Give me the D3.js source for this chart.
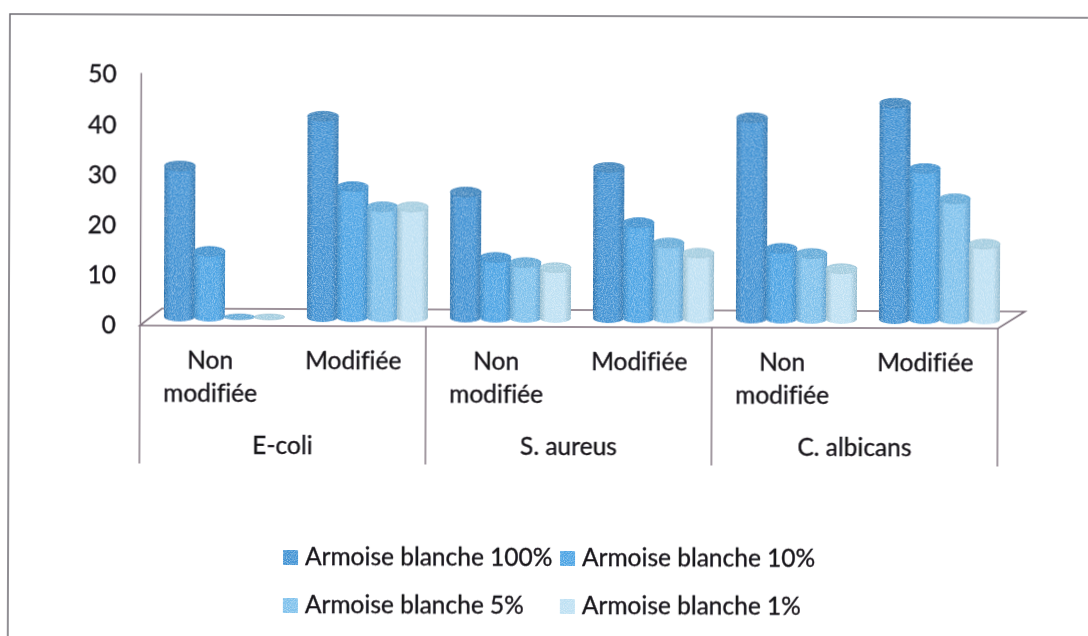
<!DOCTYPE html>
<html lang="fr">
<head>
    <meta charset="UTF-8">
    <title>Armoise blanche</title>
    <style>
        html, body { margin: 0; padding: 0; background: #fff; }
        svg { display: block; }
        text {
            font-family: Lato, "Open Sans", sans-serif;
            fill: #17141a;
            stroke: #17141a;
            stroke-width: 0.35px;
            font-variant-ligatures: none;
        }
    </style>
</head>
<body>
    <script src="https://cdnjs.cloudflare.com/ajax/libs/d3/7.8.2/d3.min.js"></script>
    <script>
        const souches = ["E-coli", "S. aureus", "C. albicans"]
        const etats = ["Non modifiée", "Modifiée"]
        const series = ["Armoise blanche 100%", "Armoise blanche 10%", "Armoise blanche 5%", "Armoise blanche 1%"]
        const yTicks = [0, 10, 20, 30, 40, 50]

        // une ligne par série, 6 valeurs : souche x état
        const a100 = [30, 40, 25, 30, 40, 43]
        const a10 = [13, 26, 12, 19, 14, 30]
        const a5 = [0, 22, 11, 15, 13, 24]
        const a1 = [0, 22, 10, 13, 10, 15]
        const valeurs = [a100, a10, a5, a1]

        const couleurs = ["#3f92d4", "#4aa3e4", "#7cc0ec", "#bde0f3"]
        const sombres = ["#2a72ad", "#2f83c2", "#5198c9", "#8fb8cc"]
        const dessus = ["#3a83bd", "#3c90cf", "#60a9d8", "#a3cde0"]

        const w = 1088
        const h = 636
        const dx = 13   // décalage de la profondeur 3D
        const dy = 8

        const svg = d3.select("body")
            .append("svg")
                .attr("width", w)
                .attr("height", h)

        const defs = svg.append("defs")

        // grain du scan sur les barres
        const grain = defs.append("filter").attr("id", "grain")
            .attr("color-interpolation-filters", "sRGB")
            .attr("x", "-5%").attr("y", "-5%").attr("width", "110%").attr("height", "110%")
        grain.append("feTurbulence")
            .attr("type", "fractalNoise").attr("baseFrequency", 0.9).attr("numOctaves", 2).attr("seed", 4)
            .attr("result", "bruit")
        grain.append("feColorMatrix").attr("in", "bruit").attr("type", "matrix")
            .attr("values", "0 0 0 0 1  0 0 0 0 1  0 0 0 0 1  1.1 0 0 0 -0.42")
            .attr("result", "points")
        grain.append("feComposite").attr("in", "points").attr("in2", "SourceAlpha").attr("operator", "in").attr("result", "pointsBar")
        grain.append("feMerge").selectAll("feMergeNode")
            .data(["SourceGraphic", "pointsBar"])
            .enter().append("feMergeNode").attr("in", d => d)

        const flou = defs.append("filter").attr("id", "flou")
        flou.append("feGaussianBlur").attr("stdDeviation", 0.45)

        // cylindre : bords sombres, centre clair
        series.forEach((s, i) => {
            const g = defs.append("linearGradient").attr("id", "cyl" + i)
            g.append("stop").attr("offset", "0%").attr("stop-color", sombres[i])
            g.append("stop").attr("offset", "20%").attr("stop-color", couleurs[i])
            g.append("stop").attr("offset", "78%").attr("stop-color", couleurs[i])
            g.append("stop").attr("offset", "100%").attr("stop-color", sombres[i])
        })

        const chart = svg.append("g")
            .attr("transform", "rotate(0.2)")
            .attr("filter", "url(#flou)")

        // cadre
        chart.append("path")
            .attr("d", `M1088,14H10V636`)
            .attr("fill", "none")
            .attr("stroke", "#6d6b72")
            .attr("stroke-width", 1.5)

        const categories = d3.range(6)
        const x0 = d3.scaleBand().domain(categories).range([141, 999])
        const x1 = d3.scaleBand().domain(series).range([11, 131])
        const y = d3.scaleLinear().domain([0, 50]).range([323, 72])

        // sol 3D
        const trait = "#7d6f7b"
        chart.append("path")
            .attr("d", `M${x0.range()[0]},${y(0) + 2}L${x0.range()[0] + 22},${y(0) - 15}H${x0.range()[1] + 27}L${x0.range()[1]},${y(0) + 2}Z`)
            .attr("fill", "#fff")
            .attr("stroke", trait)
            .attr("stroke-width", 1.6)

        // axe Y
        const axeY = d3.axisLeft(y).tickValues(yTicks).tickSize(0).tickPadding(24)
        const gy = chart.append("g").attr("transform", "translate(141,0)").call(axeY)
        gy.select(".domain").attr("stroke", trait).attr("stroke-width", 1.4)
        gy.selectAll("text")
            .attr("font-size", 24.5)
            .attr("dy", "0.4em")
            .style("font-family", "Lato, sans-serif")

        // cylindres
        const ry = 5
        const largeur = x1.bandwidth() + 1
        const cylindre = (xg, v) => {
            const yb = y(0) - dy + 1
            const yt = y(v) - dy + 1
            return `M${xg},${yt}V${yb}A${largeur / 2},${ry} 0 0 0 ${xg + largeur},${yb}V${yt}A${largeur / 2},${ry} 0 0 0 ${xg},${yt}Z`
        }
        const barres = categories.flatMap(c => series.map((s, i) => ({ c, s, i, v: valeurs[i][c] })))

        const groupes = chart.append("g").selectAll("g")
            .data(barres)
            .enter()
            .append("g")
                .attr("filter", "url(#grain)")

        groupes.filter(d => d.v > 0).append("path")
            .attr("d", d => cylindre(x0(d.c) + x1(d.s) + dx, d.v))
            .attr("fill", d => `url(#cyl${d.i})`)

        groupes.append("ellipse")
            .attr("cx", d => x0(d.c) + x1(d.s) + dx + largeur / 2)
            .attr("cy", d => y(d.v) - dy + 1)
            .attr("rx", largeur / 2)
            .attr("ry", d => d.v > 0 ? ry : 3)
            .attr("fill", d => dessus[d.i])
            .attr("stroke", d => sombres[d.i])
            .attr("stroke-width", 0.5)

        // séparateurs de l'axe X
        const sep = [0, 2, 4, 6]
        chart.append("g").selectAll("line")
            .data(sep)
            .enter()
            .append("line")
                .attr("x1", d => d === 6 ? x0.range()[1] : x0(d))
                .attr("x2", d => d === 6 ? x0.range()[1] : x0(d))
                .attr("y1", y(0) + 2)
                .attr("y2", 463)
                .attr("stroke", trait)
                .attr("stroke-width", 1.4)

        // libellés d'état
        const etatsTous = categories.map(c => etats[c % 2])
        const lib = chart.append("g").selectAll("text")
            .data(categories)
            .enter()
            .append("text")
                .attr("font-size", 24.5)
                .attr("text-anchor", "middle")
                .attr("x", d => x0(d) + x0.bandwidth() / 2 - 1)
                .attr("y", 368)
        lib.selectAll("tspan")
            .data(d => etatsTous[d] === etats[0] ? etatsTous[d].split(" ") : [etatsTous[d]])
            .enter()
            .append("tspan")
                .attr("x", function () { return d3.select(this.parentNode).attr("x") })
                .attr("dy", (d, i) => i ? 33 : 0)
                .text(d => d)

        // souches
        chart.append("g").selectAll("text")
            .data(souches)
            .enter()
            .append("text")
                .attr("font-size", 24.5)
                .attr("text-anchor", "middle")
                .attr("x", (d, i) => x0(i * 2) + x0.bandwidth())
                .attr("y", 453)
                .text(d => d)

        // légende
        const legX = [285, 562]
        const legY = [556, 604]
        const leg = chart.append("g").selectAll("g")
            .data(series)
            .enter()
            .append("g")
                .attr("transform", (d, i) => `translate(${legX[i % 2]},${legY[Math.floor(i / 2)]})`)
        leg.append("rect")
            .attr("x", 0).attr("y", -7)
            .attr("width", 15).attr("height", 15)
            .attr("fill", (d, i) => couleurs[i])
            .attr("filter", "url(#grain)")
        leg.append("text")
            .attr("x", 22)
            .attr("y", 8)
            .attr("font-size", 24.5)
            .text(d => d)
    </script>
</body>
</html>
